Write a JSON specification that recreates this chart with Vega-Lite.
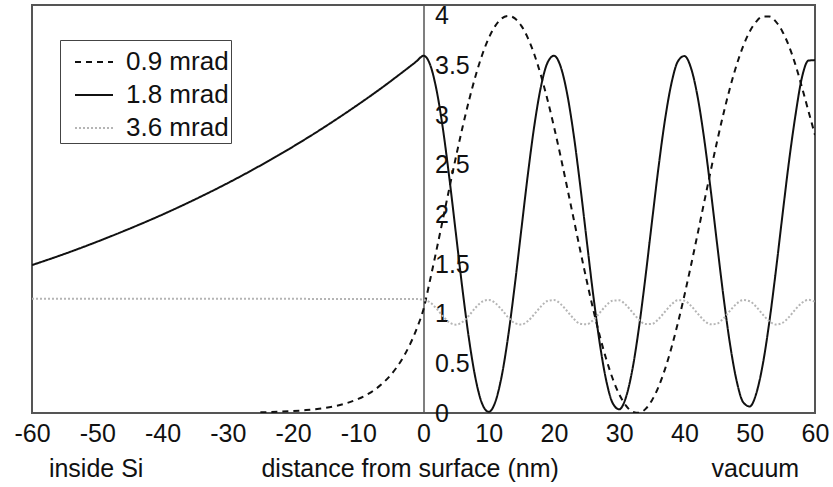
{
  "$schema": "https://vega.github.io/schema/vega-lite/v6.json",
  "width": 783,
  "height": 408,
  "autosize": {"type": "none"},
  "padding": {"left": 32, "top": 5, "right": 18, "bottom": 74},
  "background": "white",
  "config": {
    "view": {"stroke": "#555", "strokeWidth": 2},
    "font": "Liberation Sans"
  },
  "data": {
    "values": [
      {"x": -60, "y": 1.490, "s": "1.8 mrad"},
      {"x": -55, "y": 1.603, "s": "1.8 mrad"},
      {"x": -50, "y": 1.726, "s": "1.8 mrad"},
      {"x": -45, "y": 1.858, "s": "1.8 mrad"},
      {"x": -40, "y": 1.999, "s": "1.8 mrad"},
      {"x": -35, "y": 2.152, "s": "1.8 mrad"},
      {"x": -30, "y": 2.316, "s": "1.8 mrad"},
      {"x": -25, "y": 2.493, "s": "1.8 mrad"},
      {"x": -20, "y": 2.683, "s": "1.8 mrad"},
      {"x": -15, "y": 2.888, "s": "1.8 mrad"},
      {"x": -10, "y": 3.108, "s": "1.8 mrad"},
      {"x": -8, "y": 3.200, "s": "1.8 mrad"},
      {"x": -6, "y": 3.295, "s": "1.8 mrad"},
      {"x": -4, "y": 3.394, "s": "1.8 mrad"},
      {"x": -2, "y": 3.495, "s": "1.8 mrad"},
      {"x": -1, "y": 3.547, "s": "1.8 mrad"},
      {"x": -0.4, "y": 3.585, "s": "1.8 mrad"},
      {"x": 0, "y": 3.600, "s": "1.8 mrad"},
      {"x": 0.4, "y": 3.585, "s": "1.8 mrad"},
      {"x": 1, "y": 3.511, "s": "1.8 mrad"},
      {"x": 2, "y": 3.253, "s": "1.8 mrad"},
      {"x": 3, "y": 2.852, "s": "1.8 mrad"},
      {"x": 4, "y": 2.347, "s": "1.8 mrad"},
      {"x": 5, "y": 1.789, "s": "1.8 mrad"},
      {"x": 6, "y": 1.232, "s": "1.8 mrad"},
      {"x": 7, "y": 0.733, "s": "1.8 mrad"},
      {"x": 8, "y": 0.339, "s": "1.8 mrad"},
      {"x": 9, "y": 0.091, "s": "1.8 mrad"},
      {"x": 10, "y": 0.012, "s": "1.8 mrad"},
      {"x": 11, "y": 0.111, "s": "1.8 mrad"},
      {"x": 12, "y": 0.377, "s": "1.8 mrad"},
      {"x": 13, "y": 0.785, "s": "1.8 mrad"},
      {"x": 14, "y": 1.293, "s": "1.8 mrad"},
      {"x": 15, "y": 1.851, "s": "1.8 mrad"},
      {"x": 16, "y": 2.406, "s": "1.8 mrad"},
      {"x": 17, "y": 2.901, "s": "1.8 mrad"},
      {"x": 18, "y": 3.288, "s": "1.8 mrad"},
      {"x": 19, "y": 3.528, "s": "1.8 mrad"},
      {"x": 20, "y": 3.599, "s": "1.8 mrad"},
      {"x": 21, "y": 3.493, "s": "1.8 mrad"},
      {"x": 22, "y": 3.221, "s": "1.8 mrad"},
      {"x": 23, "y": 2.811, "s": "1.8 mrad"},
      {"x": 24, "y": 2.301, "s": "1.8 mrad"},
      {"x": 25, "y": 1.745, "s": "1.8 mrad"},
      {"x": 26, "y": 1.195, "s": "1.8 mrad"},
      {"x": 27, "y": 0.707, "s": "1.8 mrad"},
      {"x": 28, "y": 0.329, "s": "1.8 mrad"},
      {"x": 29, "y": 0.099, "s": "1.8 mrad"},
      {"x": 30, "y": 0.038, "s": "1.8 mrad"},
      {"x": 31, "y": 0.153, "s": "1.8 mrad"},
      {"x": 32, "y": 0.433, "s": "1.8 mrad"},
      {"x": 33, "y": 0.850, "s": "1.8 mrad"},
      {"x": 34, "y": 1.362, "s": "1.8 mrad"},
      {"x": 35, "y": 1.919, "s": "1.8 mrad"},
      {"x": 36, "y": 2.466, "s": "1.8 mrad"},
      {"x": 37, "y": 2.949, "s": "1.8 mrad"},
      {"x": 38, "y": 3.321, "s": "1.8 mrad"},
      {"x": 39, "y": 3.544, "s": "1.8 mrad"},
      {"x": 40, "y": 3.596, "s": "1.8 mrad"},
      {"x": 41, "y": 3.474, "s": "1.8 mrad"},
      {"x": 42, "y": 3.189, "s": "1.8 mrad"},
      {"x": 43, "y": 2.769, "s": "1.8 mrad"},
      {"x": 44, "y": 2.256, "s": "1.8 mrad"},
      {"x": 45, "y": 1.701, "s": "1.8 mrad"},
      {"x": 46, "y": 1.159, "s": "1.8 mrad"},
      {"x": 47, "y": 0.684, "s": "1.8 mrad"},
      {"x": 48, "y": 0.321, "s": "1.8 mrad"},
      {"x": 49, "y": 0.108, "s": "1.8 mrad"},
      {"x": 50, "y": 0.066, "s": "1.8 mrad"},
      {"x": 51, "y": 0.197, "s": "1.8 mrad"},
      {"x": 52, "y": 0.491, "s": "1.8 mrad"},
      {"x": 53, "y": 0.916, "s": "1.8 mrad"},
      {"x": 54, "y": 1.431, "s": "1.8 mrad"},
      {"x": 55, "y": 1.986, "s": "1.8 mrad"},
      {"x": 56, "y": 2.526, "s": "1.8 mrad"},
      {"x": 57, "y": 2.997, "s": "1.8 mrad"},
      {"x": 58, "y": 3.380, "s": "1.8 mrad"},
      {"x": 59, "y": 3.550, "s": "1.8 mrad"},
      {"x": 60, "y": 3.555, "s": "1.8 mrad"},

      {"x": -25, "y": 0.007, "s": "0.9 mrad"},
      {"x": -22, "y": 0.013, "s": "0.9 mrad"},
      {"x": -20, "y": 0.019, "s": "0.9 mrad"},
      {"x": -18, "y": 0.029, "s": "0.9 mrad"},
      {"x": -16, "y": 0.043, "s": "0.9 mrad"},
      {"x": -14, "y": 0.064, "s": "0.9 mrad"},
      {"x": -12, "y": 0.095, "s": "0.9 mrad"},
      {"x": -10, "y": 0.142, "s": "0.9 mrad"},
      {"x": -8, "y": 0.211, "s": "0.9 mrad"},
      {"x": -6, "y": 0.315, "s": "0.9 mrad"},
      {"x": -5, "y": 0.385, "s": "0.9 mrad"},
      {"x": -4, "y": 0.470, "s": "0.9 mrad"},
      {"x": -3, "y": 0.574, "s": "0.9 mrad"},
      {"x": -2, "y": 0.701, "s": "0.9 mrad"},
      {"x": -1, "y": 0.856, "s": "0.9 mrad"},
      {"x": 0, "y": 1.046, "s": "0.9 mrad"},
      {"x": 1, "y": 1.337, "s": "0.9 mrad"},
      {"x": 2, "y": 1.644, "s": "0.9 mrad"},
      {"x": 3, "y": 1.960, "s": "0.9 mrad"},
      {"x": 4, "y": 2.277, "s": "0.9 mrad"},
      {"x": 5, "y": 2.588, "s": "0.9 mrad"},
      {"x": 6, "y": 2.883, "s": "0.9 mrad"},
      {"x": 7, "y": 3.156, "s": "0.9 mrad"},
      {"x": 8, "y": 3.400, "s": "0.9 mrad"},
      {"x": 9, "y": 3.609, "s": "0.9 mrad"},
      {"x": 10, "y": 3.777, "s": "0.9 mrad"},
      {"x": 11, "y": 3.900, "s": "0.9 mrad"},
      {"x": 12, "y": 3.975, "s": "0.9 mrad"},
      {"x": 13, "y": 4.000, "s": "0.9 mrad"},
      {"x": 14, "y": 3.975, "s": "0.9 mrad"},
      {"x": 15, "y": 3.900, "s": "0.9 mrad"},
      {"x": 16, "y": 3.777, "s": "0.9 mrad"},
      {"x": 17, "y": 3.609, "s": "0.9 mrad"},
      {"x": 18, "y": 3.400, "s": "0.9 mrad"},
      {"x": 19, "y": 3.156, "s": "0.9 mrad"},
      {"x": 20, "y": 2.883, "s": "0.9 mrad"},
      {"x": 21, "y": 2.588, "s": "0.9 mrad"},
      {"x": 22, "y": 2.277, "s": "0.9 mrad"},
      {"x": 23, "y": 1.960, "s": "0.9 mrad"},
      {"x": 24, "y": 1.644, "s": "0.9 mrad"},
      {"x": 25, "y": 1.337, "s": "0.9 mrad"},
      {"x": 26, "y": 1.046, "s": "0.9 mrad"},
      {"x": 27, "y": 0.780, "s": "0.9 mrad"},
      {"x": 28, "y": 0.544, "s": "0.9 mrad"},
      {"x": 29, "y": 0.345, "s": "0.9 mrad"},
      {"x": 30, "y": 0.188, "s": "0.9 mrad"},
      {"x": 31, "y": 0.077, "s": "0.9 mrad"},
      {"x": 32, "y": 0.014, "s": "0.9 mrad"},
      {"x": 33, "y": 0.002, "s": "0.9 mrad"},
      {"x": 34, "y": 0.039, "s": "0.9 mrad"},
      {"x": 35, "y": 0.127, "s": "0.9 mrad"},
      {"x": 36, "y": 0.261, "s": "0.9 mrad"},
      {"x": 37, "y": 0.440, "s": "0.9 mrad"},
      {"x": 38, "y": 0.658, "s": "0.9 mrad"},
      {"x": 39, "y": 0.910, "s": "0.9 mrad"},
      {"x": 40, "y": 1.189, "s": "0.9 mrad"},
      {"x": 41, "y": 1.489, "s": "0.9 mrad"},
      {"x": 42, "y": 1.801, "s": "0.9 mrad"},
      {"x": 43, "y": 2.119, "s": "0.9 mrad"},
      {"x": 44, "y": 2.434, "s": "0.9 mrad"},
      {"x": 45, "y": 2.738, "s": "0.9 mrad"},
      {"x": 46, "y": 3.023, "s": "0.9 mrad"},
      {"x": 47, "y": 3.282, "s": "0.9 mrad"},
      {"x": 48, "y": 3.509, "s": "0.9 mrad"},
      {"x": 49, "y": 3.698, "s": "0.9 mrad"},
      {"x": 50, "y": 3.844, "s": "0.9 mrad"},
      {"x": 51, "y": 3.943, "s": "0.9 mrad"},
      {"x": 52, "y": 3.994, "s": "0.9 mrad"},
      {"x": 53, "y": 3.994, "s": "0.9 mrad"},
      {"x": 54, "y": 3.943, "s": "0.9 mrad"},
      {"x": 55, "y": 3.844, "s": "0.9 mrad"},
      {"x": 56, "y": 3.698, "s": "0.9 mrad"},
      {"x": 57, "y": 3.509, "s": "0.9 mrad"},
      {"x": 58, "y": 3.282, "s": "0.9 mrad"},
      {"x": 59, "y": 3.040, "s": "0.9 mrad"},
      {"x": 60, "y": 2.800, "s": "0.9 mrad"},

      {"x": -60, "y": 1.150, "s": "3.6 mrad"},
      {"x": -30, "y": 1.150, "s": "3.6 mrad"},
      {"x": -1, "y": 1.148, "s": "3.6 mrad"},
      {"x": 0, "y": 1.140, "s": "3.6 mrad"},
      {"x": 1, "y": 1.115, "s": "3.6 mrad"},
      {"x": 2, "y": 1.051, "s": "3.6 mrad"},
      {"x": 3, "y": 0.973, "s": "3.6 mrad"},
      {"x": 4, "y": 0.911, "s": "3.6 mrad"},
      {"x": 5, "y": 0.890, "s": "3.6 mrad"},
      {"x": 6, "y": 0.918, "s": "3.6 mrad"},
      {"x": 7, "y": 0.984, "s": "3.6 mrad"},
      {"x": 8, "y": 1.063, "s": "3.6 mrad"},
      {"x": 9, "y": 1.122, "s": "3.6 mrad"},
      {"x": 10, "y": 1.139, "s": "3.6 mrad"},
      {"x": 11, "y": 1.108, "s": "3.6 mrad"},
      {"x": 12, "y": 1.040, "s": "3.6 mrad"},
      {"x": 13, "y": 0.962, "s": "3.6 mrad"},
      {"x": 14, "y": 0.905, "s": "3.6 mrad"},
      {"x": 15, "y": 0.891, "s": "3.6 mrad"},
      {"x": 16, "y": 0.926, "s": "3.6 mrad"},
      {"x": 17, "y": 0.996, "s": "3.6 mrad"},
      {"x": 18, "y": 1.073, "s": "3.6 mrad"},
      {"x": 19, "y": 1.128, "s": "3.6 mrad"},
      {"x": 20, "y": 1.138, "s": "3.6 mrad"},
      {"x": 21, "y": 1.099, "s": "3.6 mrad"},
      {"x": 22, "y": 1.028, "s": "3.6 mrad"},
      {"x": 23, "y": 0.951, "s": "3.6 mrad"},
      {"x": 24, "y": 0.900, "s": "3.6 mrad"},
      {"x": 25, "y": 0.894, "s": "3.6 mrad"},
      {"x": 26, "y": 0.935, "s": "3.6 mrad"},
      {"x": 27, "y": 1.008, "s": "3.6 mrad"},
      {"x": 28, "y": 1.084, "s": "3.6 mrad"},
      {"x": 29, "y": 1.132, "s": "3.6 mrad"},
      {"x": 30, "y": 1.135, "s": "3.6 mrad"},
      {"x": 31, "y": 1.090, "s": "3.6 mrad"},
      {"x": 32, "y": 1.016, "s": "3.6 mrad"},
      {"x": 33, "y": 0.941, "s": "3.6 mrad"},
      {"x": 34, "y": 0.896, "s": "3.6 mrad"},
      {"x": 35, "y": 0.897, "s": "3.6 mrad"},
      {"x": 36, "y": 0.945, "s": "3.6 mrad"},
      {"x": 37, "y": 1.020, "s": "3.6 mrad"},
      {"x": 38, "y": 1.093, "s": "3.6 mrad"},
      {"x": 39, "y": 1.136, "s": "3.6 mrad"},
      {"x": 40, "y": 1.131, "s": "3.6 mrad"},
      {"x": 41, "y": 1.080, "s": "3.6 mrad"},
      {"x": 42, "y": 1.004, "s": "3.6 mrad"},
      {"x": 43, "y": 0.932, "s": "3.6 mrad"},
      {"x": 44, "y": 0.893, "s": "3.6 mrad"},
      {"x": 45, "y": 0.901, "s": "3.6 mrad"},
      {"x": 46, "y": 0.955, "s": "3.6 mrad"},
      {"x": 47, "y": 1.032, "s": "3.6 mrad"},
      {"x": 48, "y": 1.102, "s": "3.6 mrad"},
      {"x": 49, "y": 1.138, "s": "3.6 mrad"},
      {"x": 50, "y": 1.126, "s": "3.6 mrad"},
      {"x": 51, "y": 1.070, "s": "3.6 mrad"},
      {"x": 52, "y": 0.992, "s": "3.6 mrad"},
      {"x": 53, "y": 0.924, "s": "3.6 mrad"},
      {"x": 54, "y": 0.891, "s": "3.6 mrad"},
      {"x": 55, "y": 0.907, "s": "3.6 mrad"},
      {"x": 56, "y": 0.966, "s": "3.6 mrad"},
      {"x": 57, "y": 1.044, "s": "3.6 mrad"},
      {"x": 58, "y": 1.110, "s": "3.6 mrad"},
      {"x": 59, "y": 1.140, "s": "3.6 mrad"},
      {"x": 60, "y": 1.120, "s": "3.6 mrad"}
    ]
  },
  "mark": {"type": "line", "interpolate": "monotone", "strokeWidth": 2, "clip": true},
  "encoding": {
    "x": {
      "field": "x",
      "type": "quantitative",
      "scale": {"domain": [-60, 60], "nice": false},
      "axis": {
        "values": [-60, -50, -40, -30, -20, -10, 0, 10, 20, 30, 40, 50, 60],
        "labelExpr": "'' + datum.value",
        "domain": false,
        "ticks": false,
        "tickSize": 0,
        "grid": false,
        "labelFlush": false,
        "labelOverlap": false,
        "labelFontSize": 25,
        "labelColor": "#111",
        "labelPadding": 8,
        "title": "inside Si\u00a0\u00a0\u00a0\u00a0\u00a0\u00a0\u00a0\u00a0\u00a0\u00a0\u00a0\u00a0\u00a0\u00a0\u00a0\u00a0\u00a0distance from surface (nm)\u00a0\u00a0\u00a0\u00a0\u00a0\u00a0\u00a0\u00a0\u00a0\u00a0\u00a0\u00a0\u00a0\u00a0\u00a0\u00a0\u00a0\u00a0\u00a0\u00a0\u00a0\u00a0vacuum",
        "titleFontSize": 25,
        "titleFontWeight": "normal",
        "titleColor": "#111",
        "titlePadding": 10
      }
    },
    "y": {
      "field": "y",
      "type": "quantitative",
      "scale": {"domain": [0, 4.11], "nice": false},
      "axis": {
        "orient": "right",
        "offset": -391.5,
        "values": [0, 0.5, 1, 1.5, 2, 2.5, 3, 3.5, 4],
        "labelExpr": "'' + datum.value",
        "domain": true,
        "domainColor": "#555",
        "domainWidth": 1.5,
        "ticks": false,
        "tickSize": 0,
        "grid": false,
        "labelOverlap": false,
        "labelAlign": "left",
        "labelFontSize": 25,
        "labelColor": "#111",
        "labelPadding": 11,
        "title": null
      }
    },
    "color": {
      "field": "s",
      "type": "nominal",
      "scale": {"domain": ["0.9 mrad", "1.8 mrad", "3.6 mrad"], "range": ["#111111", "#111111", "#b5b5b5"]},
      "legend": {
        "orient": "none",
        "legendX": 28,
        "legendY": 35,
        "title": null,
        "symbolType": "stroke",
        "symbolSize": 1444,
        "symbolStrokeWidth": 2,
        "labelFontSize": 26,
        "labelColor": "#111",
        "labelOffset": 12,
        "strokeColor": "#444",
        "padding": 2,
        "symbolOffset": 12,
        "rowPadding": -7
      }
    },
    "strokeDash": {
      "field": "s",
      "type": "nominal",
      "scale": {"domain": ["0.9 mrad", "1.8 mrad", "3.6 mrad"], "range": [[6, 5], [1, 0], [2, 2]]}
    }
  }
}
